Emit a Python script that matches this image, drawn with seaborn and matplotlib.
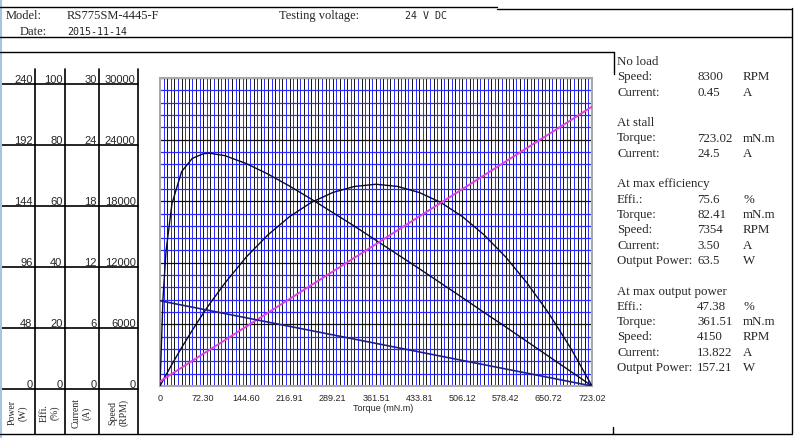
import matplotlib
matplotlib.use("Agg")
import matplotlib.pyplot as plt
from matplotlib.lines import Line2D
import numpy as np
import pandas as pd
import seaborn as sns

# values
torque = [0, 5, 10, 20, 36.15, 54, 72.30, 82.41, 108.45, 144.60, 180.76, 216.91,
          253.06, 289.21, 325.36, 361.51, 397.66, 433.81, 469.97, 506.12,
          542.27, 578.42, 614.57, 650.72, 686.87, 723.02]
speed_rpm = [8300, 8243, 8185, 8070, 7885, 7680, 7470, 7354, 7055, 6640, 6225, 5810,
             5395, 4980, 4565, 4150, 3735, 3320, 2905, 2490,
             2075, 1660, 1245, 830, 415, 0]
current_a = [0.45, 0.64, 0.82, 1.19, 1.79, 2.45, 3.13, 3.50, 4.46, 5.80, 7.14, 8.48,
             9.82, 11.15, 12.49, 13.82, 15.17, 16.51, 17.84, 19.18,
             20.52, 21.86, 23.20, 24.53, 25.87, 27.21]
power_w = [0, 4.3, 8.6, 16.9, 29.9, 43.4, 56.6, 63.5, 80.1, 100.6, 117.8, 132.0,
           143.0, 150.8, 155.5, 157.2, 155.5, 150.8, 143.0, 132.0,
           117.8, 100.6, 80.1, 56.6, 29.9, 0]
effi_pct = [0, 28.3, 43.6, 59.2, 69.6, 73.9, 75.4, 75.6, 74.8, 72.2, 68.8, 64.9,
            60.7, 56.3, 51.9, 47.3, 42.7, 38.1, 33.4, 28.7,
            23.9, 19.2, 14.4, 9.6, 4.8, 0]

x_ticks = [0, 72.30, 144.60, 216.91, 289.21, 361.51, 433.81, 506.12, 578.42, 650.72, 723.02]
x_tick_labels = ["0", "72.30", "144.60", "216.91", "289.21", "361.51",
                 "433.81", "506.12", "578.42", "650.72", "723.02"]

power_ticks = [0, 48, 96, 144, 192, 240]
effi_ticks = [0, 20, 40, 60, 80, 100]
current_ticks = [0, 6, 12, 18, 24, 30]
speed_ticks = [0, 6000, 12000, 18000, 24000, 30000]
column_titles = ["Power\n(W)", "Effi.\n(%)", "Current\n(A)", "Speed\n(RPM)"]

info_rows = [
    ("No load", "", ""),
    ("Speed:", "8300", "RPM"),
    ("Current:", "0.45", "A"),
    (None, None, None),
    ("At stall", "", ""),
    ("Torque:", "723.02", "mN.m"),
    ("Current:", "24.5", "A"),
    (None, None, None),
    ("At max efficiency", "", ""),
    ("Effi.:", "75.6", "%"),
    ("Torque:", "82.41", "mN.m"),
    ("Speed:", "7354", "RPM"),
    ("Current:", "3.50", "A"),
    ("Output Power:", "63.5", "W"),
    (None, None, None),
    ("At max output power", "", ""),
    ("Effi.:", "47.38", "%"),
    ("Torque:", "361.51", "mN.m"),
    ("Speed:", "4150", "RPM"),
    ("Current:", "13.822", "A"),
    ("Output Power:", "157.21", "W"),
]

sns.set_theme(style="white")
plt.rcParams["font.family"] = ["Liberation Sans", "DejaVu Sans"]

W, H = 800, 439
fig = plt.figure(figsize=(8, 4.39), dpi=100)


def fx(px):
    return px / W


def fy(py):
    return 1 - py / H


def hline(y, x0, x1, color="black", lw=1.0):
    fig.add_artist(Line2D([fx(x0), fx(x1)], [fy(y), fy(y)], color=color, lw=lw,
                          transform=fig.transFigure))


def vline(x, y0, y1, color="black", lw=1.0):
    fig.add_artist(Line2D([fx(x), fx(x)], [fy(y0), fy(y1)], color=color, lw=lw,
                          transform=fig.transFigure))


df = pd.DataFrame({
    "torque": torque,
    "speed": speed_rpm,
    "current": current_a,
    "power": power_w,
    "effi": effi_pct,
})

# main plot
left, top, right, bottom = 160, 79, 592, 387
ax = fig.add_axes([fx(left), fy(bottom), fx(right - left), (bottom - top) / H])
ax.set_xlim(0, 723.02)
ax.set_ylim(0, 240)

for i, v in enumerate(np.linspace(0, 723.02, 121)):
    ax.axvline(v, color="#111111" if i % 2 == 0 else "#2a2aff", lw=0.7, zorder=1)
for i, v in enumerate(np.linspace(0, 240, 26)):
    ax.axhline(v, color="#111111" if i % 5 == 0 else "#2a2aff", lw=0.9, zorder=1)

sns.lineplot(data=df, x="torque", y="power", ax=ax, color="#0a0a2a", lw=1.0, zorder=5)

ax_e = ax.twinx()
ax_e.set_ylim(0, 100)
sns.lineplot(data=df, x="torque", y="effi", ax=ax_e, color="#0a0a2a", lw=1.0)

ax_c = ax.twinx()
ax_c.set_ylim(0, 30)
sns.lineplot(data=df, x="torque", y="current", ax=ax_c, color="#e040e0", lw=1.4)

ax_s = ax.twinx()
ax_s.set_ylim(0, 30000)
sns.lineplot(data=df, x="torque", y="speed", ax=ax_s, color="#20208a", lw=1.2)

for a in (ax_e, ax_c, ax_s):
    a.set_yticks([])
    a.set_ylabel("")
    a.set_xlabel("")
    for s in a.spines.values():
        s.set_visible(False)

ax.set_yticks([])
ax.set_ylabel("")
ax.set_xticks(x_ticks)
ax.set_xticklabels(x_tick_labels, fontsize=6.5)
ax.tick_params(axis="x", length=0, pad=5)
ax.set_xlabel("Torque (mN.m)", fontsize=6.5)
ax.xaxis.set_label_coords((383 - left) / (right - left), -(409 - bottom) / (bottom - top))
ax.xaxis.label.set_va("center")
for s in ax.spines.values():
    s.set_color("#a8a8a8")
    s.set_linewidth(1.5)

# left value table
col_edges = [0, 35, 65, 99, 138]
col_ticks = [power_ticks, effi_ticks, current_ticks, speed_ticks]
t_top, t_bot = 85, 390
for k, ticks in enumerate(col_ticks):
    c0, c1 = col_edges[k], col_edges[k + 1]
    cax = fig.add_axes([fx(c0), fy(t_bot), fx(c1 - c0), (t_bot - t_top) / H])
    cax.set_ylim(0, ticks[-1])
    cax.set_xlim(0, 1)
    cax.set_axis_off()
    for v in ticks:
        cax.axhline(v, color="black", lw=1.2, clip_on=False)
        cax.text(1 - 2.5 / (c1 - c0), v, f"{v}", ha="right", va="bottom",
                 fontsize=8, transform=cax.get_yaxis_transform())
    fig.text(fx((c0 + c1) / 2), fy(413), column_titles[k], rotation=90,
             ha="center", va="center", multialignment="center",
             fontsize=7, family=["Liberation Serif", "DejaVu Serif"])
for x in col_edges[1:]:
    vline(x, 70, 435, lw=1.2)

# frame lines
vline(1, 0, 439, color="#a9c4e0", lw=1.5)
hline(8, 0, 497)
hline(10, 497, 792)
vline(792, 9, 434)
hline(38, 0, 792)
hline(53, 0, 614)
vline(614, 53, 75)
hline(435, 0, 792)
vline(613, 428, 435)

# header
serif = ["Liberation Serif", "DejaVu Serif"]
mono = ["DejaVu Sans Mono"]
fig.text(fx(6), fy(16), "Model:", family=serif, fontsize=9, va="center")
fig.text(fx(67), fy(16), "RS775SM-4445-F", family=serif, fontsize=9, va="center")
fig.text(fx(20), fy(32), "Date:", family=serif, fontsize=9, va="center")
fig.text(fx(67), fy(32), "2015-11-14", family=mono, fontsize=7.2, va="center")
fig.text(fx(279), fy(16), "Testing voltage:", family=serif, fontsize=9, va="center")
fig.text(fx(405), fy(16), "24 V DC", family=mono, fontsize=7.2, va="center")

# right info panel
y = 62
for label, value, unit in info_rows:
    if label is not None:
        fig.text(fx(617), fy(y), label, family=serif, fontsize=9.3, va="center")
        fig.text(fx(697), fy(y), value, family=serif, fontsize=9.3, va="center")
        fig.text(fx(743), fy(y), unit, family=serif, fontsize=9.3, va="center")
    y += 15.3

fig.savefig("out.png", dpi=100)
plt.close(fig)
